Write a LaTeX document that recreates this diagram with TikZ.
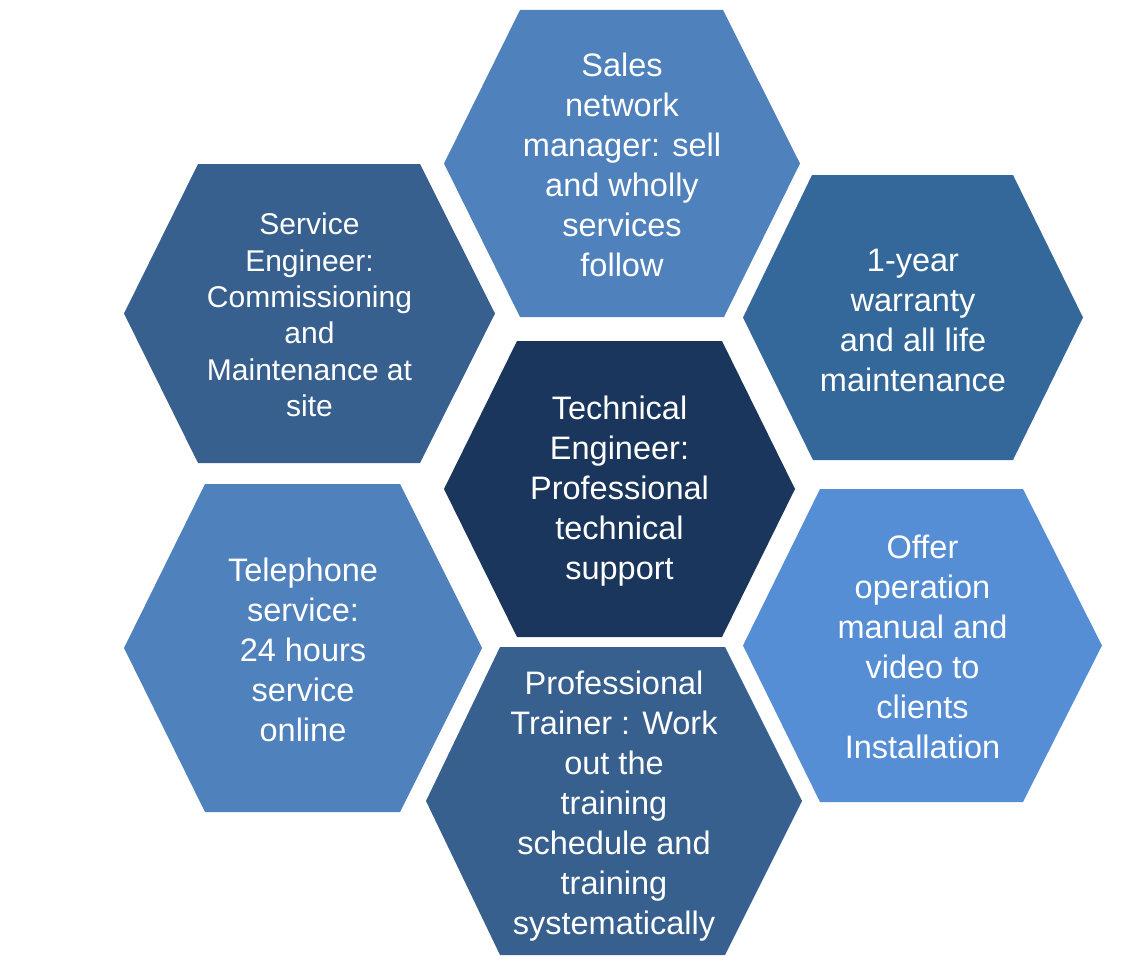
\documentclass[tikz,border=0pt]{standalone}
\usepackage{fontspec}
\setmainfont{Liberation Sans}
\usepackage{tikz}
\usetikzlibrary{positioning}

\definecolor{midblue}{HTML}{4F81BD}
\definecolor{darkblue}{HTML}{38608F}
\definecolor{steelblue}{HTML}{35689A}
\definecolor{navyblue}{HTML}{1A365C}
\definecolor{lightblue}{HTML}{558ED5}

\tikzset{
  txt/.style={text=white, align=center, inner sep=0pt,
    font=\fontsize{32.5}{40}\selectfont}
}

\begin{document}
\begin{tikzpicture}[x=1pt, y=-1pt]
\useasboundingbox (0,0) rectangle (1133,966);
% hexagons
\fill[midblue] (520,10) -- (723,10) -- (800,163.5) -- (724,317) -- (520,317) -- (444,163.5) -- cycle;
\fill[darkblue] (198,164) -- (420,164) -- (495,313.5) -- (420,463) -- (198,463) -- (124,313.5) -- cycle;
\fill[steelblue] (812,175) -- (1013,175) -- (1083,317.5) -- (1013,460) -- (813,460) -- (743,317.5) -- cycle;
\fill[navyblue] (517,341) -- (722,341) -- (795,489) -- (722,637) -- (517,637) -- (444,489) -- cycle;
\fill[midblue] (205,484) -- (400,484) -- (482,648) -- (400,812) -- (205,812) -- (124,648) -- cycle;
\fill[lightblue] (820,489) -- (1023,489) -- (1102,645.5) -- (1023,802) -- (820,802) -- (743,645.5) -- cycle;
\fill[darkblue] (500,647) -- (725,647) -- (802,801) -- (725,955) -- (500,955) -- (426,801) -- cycle;
% labels
\node[txt] (sales) at (622,165) {Sales\\network\\manager:  sell\\and wholly\\services\\follow};
\node[txt, font=\fontsize{30}{36.3}\selectfont] (service) at (309.5,315) {Service\\Engineer:\\Commissioning\\and\\Maintenance at\\site};
\node[txt] (warranty) at (913,320) {1-year\\warranty\\and all life\\maintenance};
\node[txt] (technical) at (619.5,491) {Technical\\Engineer:\\Professional\\technical\\support};
\node[txt] (telephone) at (303,650) {Telephone\\service:\\24 hours\\service\\online};
\node[txt] (manual) at (922.5,647) {Offer\\operation\\manual  and\\video to\\clients\\Installation};
\node[txt] (trainer) at (614,806) {Professional\\Trainer : Work\\out the\\training\\schedule and\\training\\systematically};
\end{tikzpicture}
\end{document}
